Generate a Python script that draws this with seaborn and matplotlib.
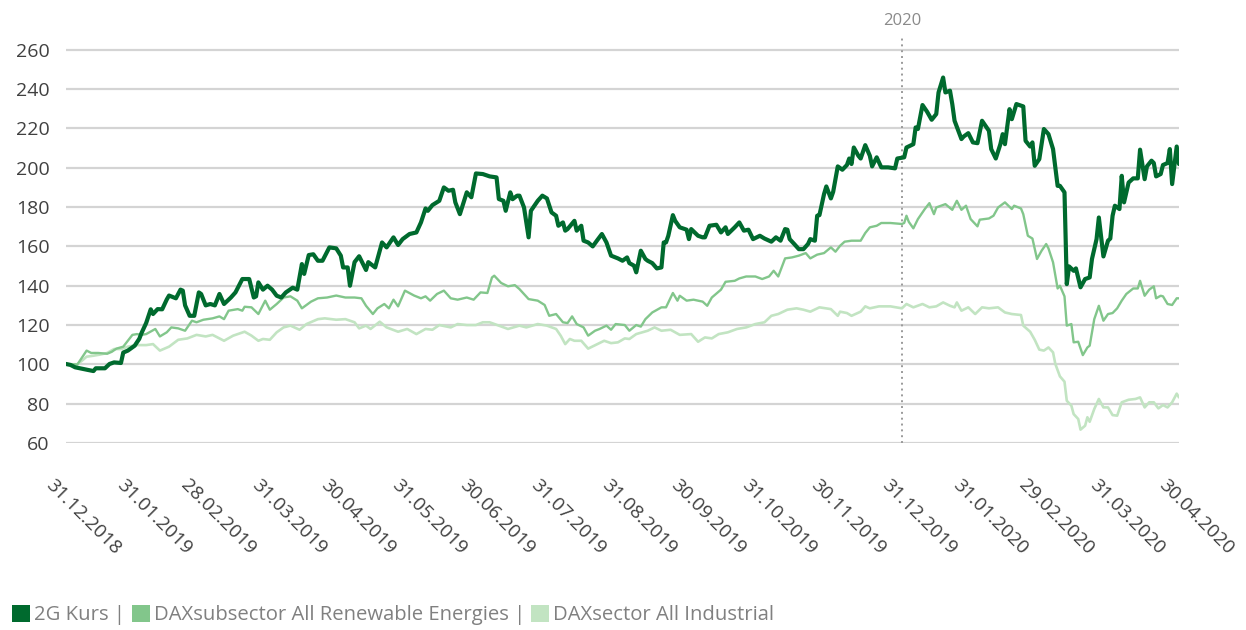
import numpy as np
import pandas as pd
import matplotlib
matplotlib.use("Agg")
import matplotlib.pyplot as plt
import matplotlib.transforms as mtransforms
from matplotlib.patches import Patch
import seaborn as sns

# ---------------- data (days since 31.12.2018, indexed values) ----------------
start_date = "2018-12-31"

days_2g = [0, 2, 4, 6, 9, 12, 13, 17, 19, 21, 24, 25, 27, 30, 32, 33, 35, 37, 38, 40,
           42, 44, 45, 48, 50, 51, 52, 54, 56, 58, 59, 61, 63, 65, 67, 69, 72, 74, 77, 80,
           82, 83, 84, 86, 88, 90, 92, 94, 96, 99, 101, 103, 104, 106, 108, 110, 112, 115, 118, 120,
           121, 123, 124, 126, 128, 131, 132, 135, 138, 140, 143, 145, 147, 150, 153, 155, 157, 158, 160, 163,
           165, 167, 169, 170, 172, 175, 177, 179, 182, 185, 188, 189, 191, 192, 194, 195, 197, 198, 200, 202,
           203, 206, 208, 210, 212, 214, 215, 217, 218, 219, 222, 223, 225, 226, 228, 230, 232, 234, 236, 238,
           241, 243, 245, 246, 248, 249, 251, 253, 254, 256, 258, 260, 261, 262, 263, 265, 266, 268, 271, 272,
           273, 276, 278, 279, 281, 284, 286, 288, 289, 292, 294, 296, 298, 300, 303, 305, 308, 310, 312, 314,
           315, 316, 318, 320, 322, 324, 325, 327, 328, 329, 331, 332, 334, 335, 337, 339, 341, 342, 343, 344,
           346, 347, 349, 351, 352, 354, 356, 359, 362, 363, 366, 367, 370, 371, 372, 374, 376, 378, 380, 381,
           383, 384, 386, 387, 388, 391, 392, 394, 396, 398, 400, 401, 403, 404, 406, 408, 409, 410, 412, 413,
           415, 418, 419, 421, 422, 423, 425, 427, 429, 431, 433, 434, 436, 437, 438, 440, 441, 443, 445, 447,
           448, 450, 451, 453, 455, 456, 457, 458, 460, 461, 462, 464, 466, 468, 469, 471, 472, 474, 475, 476,
           478, 479, 481, 482, 483, 485, 486]
kurs_2g = [100.2, 99.7, 98.5, 98.0, 97.3, 96.6, 98.0, 98.0, 100.2, 101.0, 100.7, 106.0, 107.0, 109.5, 113.0, 116.0, 121.0, 128.0, 125.6, 128.1,
           128.0, 133.0, 135.0, 133.6, 138.0, 137.5, 130.0, 124.7, 124.7, 136.6, 135.8, 130.0, 130.7, 130.0, 135.8, 130.7, 134.0, 136.6, 143.4, 143.4,
           134.0, 134.6, 141.7, 138.0, 140.0, 138.0, 134.9, 134.0, 136.6, 139.0, 138.0, 151.0, 146.0, 155.6, 156.0, 152.7, 152.7, 159.5, 159.0, 155.3,
           149.3, 149.3, 140.0, 152.0, 155.0, 148.0, 152.0, 149.3, 162.0, 159.5, 164.6, 160.7, 163.7, 166.3, 167.1, 172.2, 179.3, 178.1, 181.0, 183.2,
           190.0, 188.3, 188.8, 182.4, 176.4, 187.5, 185.0, 197.1, 196.8, 195.6, 195.1, 184.1, 183.2, 178.1, 187.5, 184.0, 185.8, 185.8, 179.8, 164.6,
           178.1, 183.2, 185.8, 184.4, 177.3, 175.6, 170.5, 172.2, 168.0, 168.8, 173.0, 168.0, 170.5, 162.9, 162.0, 160.0, 163.2, 166.3, 162.0, 155.3,
           153.9, 152.7, 154.4, 151.5, 150.2, 146.8, 157.8, 153.6, 152.7, 151.5, 148.8, 149.3, 162.0, 162.0, 165.4, 175.9, 173.0, 169.7, 168.5, 163.7,
           168.8, 165.4, 164.6, 164.6, 170.5, 171.0, 167.1, 169.7, 166.3, 169.7, 172.2, 168.0, 168.5, 163.7, 165.4, 164.0, 162.4, 164.6, 162.9, 168.8,
           168.5, 163.7, 161.2, 158.6, 158.6, 161.2, 163.7, 162.9, 175.6, 175.9, 186.6, 190.5, 184.4, 187.8, 200.7, 199.0, 201.4, 204.7, 201.9, 210.3,
           206.1, 204.7, 211.5, 206.1, 200.7, 205.3, 200.2, 200.2, 199.7, 204.7, 205.3, 210.3, 212.0, 220.5, 219.7, 231.9, 228.5, 224.4, 227.3, 238.3,
           245.9, 238.3, 239.2, 232.4, 223.9, 214.6, 215.9, 217.6, 212.9, 212.5, 223.9, 222.2, 218.8, 209.5, 204.7, 212.0, 217.1, 212.0, 229.8, 224.7,
           232.4, 231.2, 213.7, 210.8, 212.9, 201.0, 204.4, 219.7, 217.1, 209.5, 190.8, 190.8, 187.5, 140.8, 149.8, 147.6, 148.8, 139.2, 143.4, 144.2,
           153.6, 163.7, 174.7, 154.9, 162.9, 164.0, 175.6, 180.7, 179.0, 195.9, 182.4, 192.5, 194.6, 194.6, 209.2, 194.2, 200.7, 203.6, 202.4, 195.6,
           196.8, 201.4, 202.4, 209.5, 191.7, 210.8, 201.9]

days_renew = [0, 5, 7, 9, 11, 14, 18, 20, 22, 25, 27, 29, 31, 33, 35, 39, 41, 44, 46, 49,
              52, 55, 57, 60, 64, 67, 69, 71, 75, 77, 78, 81, 84, 87, 89, 92, 95, 98, 101, 103,
              107, 110, 114, 118, 122, 126, 129, 131, 134, 136, 139, 141, 143, 145, 148, 152, 155, 157, 159, 162,
              165, 168, 171, 175, 178, 181, 184, 186, 187, 190, 193, 196, 198, 202, 206, 209, 211, 214, 217, 219,
              221, 223, 226, 228, 231, 233, 236, 238, 240, 244, 246, 249, 251, 253, 256, 260, 262, 265, 267, 268,
              271, 274, 278, 280, 282, 286, 288, 292, 294, 297, 301, 304, 307, 309, 311, 314, 317, 320, 323, 325,
              328, 331, 334, 336, 338, 340, 343, 347, 349, 351, 354, 356, 360, 365, 366, 367, 368, 370, 372, 374,
              375, 377, 379, 380, 384, 387, 389, 391, 393, 395, 398, 399, 403, 405, 407, 410, 413, 414, 417, 418,
              420, 422, 424, 426, 428, 429, 431, 433, 434, 436, 437, 439, 440, 442, 444, 446, 447, 449, 451, 453,
              455, 457, 459, 461, 463, 466, 468, 469, 471, 473, 475, 476, 478, 479, 481, 483, 485, 486]
renewable = [100.0, 100.0, 103.5, 107.0, 105.8, 105.8, 105.4, 106.4, 108.0, 109.0, 112.0, 115.0, 115.4, 115.0, 115.4, 118.0, 114.2, 116.3, 118.8, 118.3,
             117.1, 122.2, 121.4, 122.7, 123.4, 124.4, 123.0, 127.3, 128.1, 127.3, 129.3, 129.0, 125.6, 132.4, 127.8, 130.7, 134.0, 134.6, 132.4, 128.5,
             131.9, 133.6, 134.0, 135.0, 134.0, 134.0, 133.6, 129.8, 125.6, 128.5, 130.7, 128.5, 132.9, 129.5, 137.5, 135.0, 133.6, 134.6, 132.4, 135.8,
             137.5, 133.6, 132.9, 134.0, 132.9, 136.6, 136.3, 144.2, 145.1, 141.4, 139.7, 140.3, 138.3, 133.2, 132.4, 130.2, 124.7, 125.6, 121.4, 121.0,
             124.4, 120.5, 118.8, 114.6, 117.1, 118.0, 119.7, 117.6, 120.5, 120.0, 117.1, 120.0, 119.2, 123.0, 126.4, 129.0, 129.0, 136.3, 132.4, 134.9,
             132.4, 132.9, 131.9, 129.8, 134.0, 138.0, 142.0, 142.5, 143.7, 144.7, 144.7, 143.4, 144.7, 147.6, 144.7, 153.9, 154.4, 155.3, 156.6, 153.9,
             155.8, 156.6, 159.5, 157.3, 160.3, 162.4, 162.9, 162.9, 166.8, 169.7, 170.5, 171.9, 171.9, 171.4, 171.9, 175.6, 172.5, 169.2, 173.9, 177.3,
             179.0, 182.0, 176.4, 179.8, 181.5, 178.6, 183.2, 178.6, 180.7, 173.9, 170.2, 173.6, 174.2, 175.6, 179.8, 182.4, 179.0, 180.7, 179.3, 176.4,
             165.4, 164.0, 153.6, 157.8, 161.2, 159.0, 151.9, 138.6, 140.0, 134.6, 119.7, 120.5, 111.2, 111.5, 104.7, 108.6, 109.5, 123.0, 129.8, 122.2,
             125.6, 126.1, 128.5, 132.4, 135.8, 138.6, 138.6, 142.5, 134.9, 138.0, 139.7, 133.6, 134.9, 134.6, 130.7, 130.2, 133.6, 133.6]

days_ind = [0, 5, 7, 9, 12, 15, 18, 21, 24, 27, 31, 35, 38, 41, 45, 49, 53, 57, 61, 64,
            69, 73, 78, 81, 84, 86, 89, 92, 95, 98, 102, 105, 110, 113, 118, 122, 126, 128, 131, 133,
            137, 140, 145, 149, 153, 157, 160, 163, 168, 171, 175, 179, 182, 185, 189, 193, 198, 201, 206, 210,
            214, 216, 218, 220, 222, 225, 228, 232, 235, 238, 241, 244, 246, 249, 254, 257, 260, 264, 268, 273,
            276, 279, 282, 285, 289, 293, 297, 301, 305, 308, 311, 315, 319, 322, 325, 329, 334, 337, 338, 341,
            343, 347, 349, 351, 355, 360, 365, 367, 370, 374, 377, 380, 383, 386, 388, 389, 391, 394, 397, 400,
            403, 407, 410, 413, 417, 418, 421, 423, 425, 427, 429, 431, 432, 434, 436, 437, 439, 440, 442, 443,
            445, 446, 447, 449, 451, 453, 455, 457, 459, 461, 464, 467, 469, 471, 473, 475, 477, 479, 481, 483,
            485, 486]
industrial = [100.0, 100.0, 101.9, 103.9, 104.4, 105.0, 105.8, 107.8, 107.8, 109.0, 109.8, 109.8, 110.3, 107.0, 109.0, 112.5, 113.2, 115.0, 114.2, 115.0,
              112.0, 114.6, 116.6, 114.6, 112.0, 112.9, 112.5, 116.3, 118.8, 119.7, 117.6, 120.5, 123.0, 123.4, 122.7, 123.0, 121.4, 118.3, 119.7, 118.0,
              121.7, 118.8, 116.6, 118.0, 115.4, 118.0, 117.6, 120.0, 118.8, 120.5, 120.0, 120.0, 121.4, 121.4, 119.7, 118.0, 119.7, 118.8, 120.5, 119.7,
              118.0, 114.6, 110.3, 112.9, 112.0, 112.0, 108.0, 110.3, 112.0, 110.8, 111.2, 113.2, 112.9, 115.4, 117.1, 118.8, 117.1, 117.6, 115.0, 115.4,
              111.5, 113.7, 113.2, 115.4, 116.3, 118.0, 118.8, 120.5, 121.4, 124.7, 125.6, 127.8, 128.5, 127.8, 126.8, 129.0, 128.1, 124.7, 126.8, 126.1,
              124.7, 126.8, 129.5, 128.5, 129.5, 129.5, 128.5, 130.7, 129.0, 130.7, 129.0, 129.5, 131.5, 129.8, 129.0, 131.5, 127.3, 129.0, 125.6, 129.0,
              128.5, 129.0, 126.4, 125.6, 125.1, 119.7, 116.6, 112.5, 107.5, 107.0, 108.6, 106.1, 100.2, 93.9, 91.2, 81.5, 79.0, 74.7, 72.2, 66.8,
              68.8, 73.1, 70.8, 77.3, 82.4, 78.1, 78.1, 74.2, 73.9, 80.7, 82.0, 82.4, 83.2, 78.1, 80.7, 80.7, 77.6, 79.3, 78.1, 80.7,
              85.1, 83.2]

series_names = ["2G Kurs", "DAXsubsector All Renewable Energies", "DAXsector All Industrial"]
series_colors = ["#006a2e", "#82c68b", "#c2e4c2"]
y_ticks = [60, 80, 100, 120, 140, 160, 180, 200, 220, 240, 260]
marker_label = "2020"
marker_date = "2019-12-31"

# ---------------- build frames ----------------
t0 = pd.Timestamp(start_date)
def frame(days, vals):
    return pd.DataFrame({"date": t0 + pd.to_timedelta(days, unit="D"), "value": vals})

df_2g = frame(days_2g, kurs_2g)
df_re = frame(days_renew, renewable)
df_in = frame(days_ind, industrial)

# ---------------- plot ----------------
sns.set_theme(style="white")
plt.rcParams["font.family"] = ["Open Sans", "DejaVu Sans"]

fig = plt.figure(figsize=(12.46, 6.30), dpi=100)
ax = fig.add_axes([66 / 1246, 1 - 443 / 630, (1179 - 66) / 1246, (443 - 38) / 630])

for y in y_ticks:
    ax.axhline(y, color="#d4d4d4", lw=1.6, zorder=0)

sns.lineplot(data=df_in, x="date", y="value", ax=ax, color=series_colors[2], lw=1.9, legend=False, zorder=2)
sns.lineplot(data=df_re, x="date", y="value", ax=ax, color=series_colors[1], lw=1.7, legend=False, zorder=3)
sns.lineplot(data=df_2g, x="date", y="value", ax=ax, color=series_colors[0], lw=3.0, legend=False, zorder=4)

ax.axvline(pd.Timestamp(marker_date), color="#9a9a9a", ls=(0, (1, 2)), lw=1.4, zorder=1)
ax.text(pd.Timestamp(marker_date), 1.022, marker_label, transform=ax.get_xaxis_transform(),
        ha="center", va="bottom", fontsize=12, color="#8a8a8a")

ax.set_xlim(t0, pd.Timestamp("2020-04-30"))
ax.set_ylim(60, 266)
ax.set_yticks(y_ticks)
ax.set_yticklabels([str(v) for v in y_ticks], fontsize=14, color="#404040")

month_ends = pd.date_range("2019-01-01", "2020-05-01", freq="MS") - pd.Timedelta(days=1)
ax.set_xticks(month_ends)
ax.set_xticklabels([d.strftime("%d.%m.%Y") for d in month_ends], fontsize=13.8, color="#404040",
                   rotation=-45, ha="left", va="top", rotation_mode="anchor")
ax.tick_params(axis="x", length=0, pad=24)
ax.tick_params(axis="y", length=0, pad=12)
shift = mtransforms.ScaledTranslation(-11 / 100, 0, fig.dpi_scale_trans)
for lbl in ax.get_xticklabels():
    lbl.set_transform(lbl.get_transform() + shift)
ax.set_xlabel("")
ax.set_ylabel("")
ax.grid(False)
for s in ax.spines.values():
    s.set_visible(False)

handles = [Patch(facecolor=c, edgecolor="none") for c in series_colors]
labels = [series_names[0] + " |", series_names[1] + " |", series_names[2]]
leg = fig.legend(handles, labels, loc="lower left", bbox_to_anchor=(0.0, -0.012), ncol=3, frameon=False,
                 fontsize=14.6, handlelength=0.9, handleheight=0.9, handletextpad=0.2, columnspacing=0.3,
                 borderaxespad=0.2)
for t in leg.get_texts():
    t.set_color("#808080")

fig.savefig("out.png", dpi=100)
